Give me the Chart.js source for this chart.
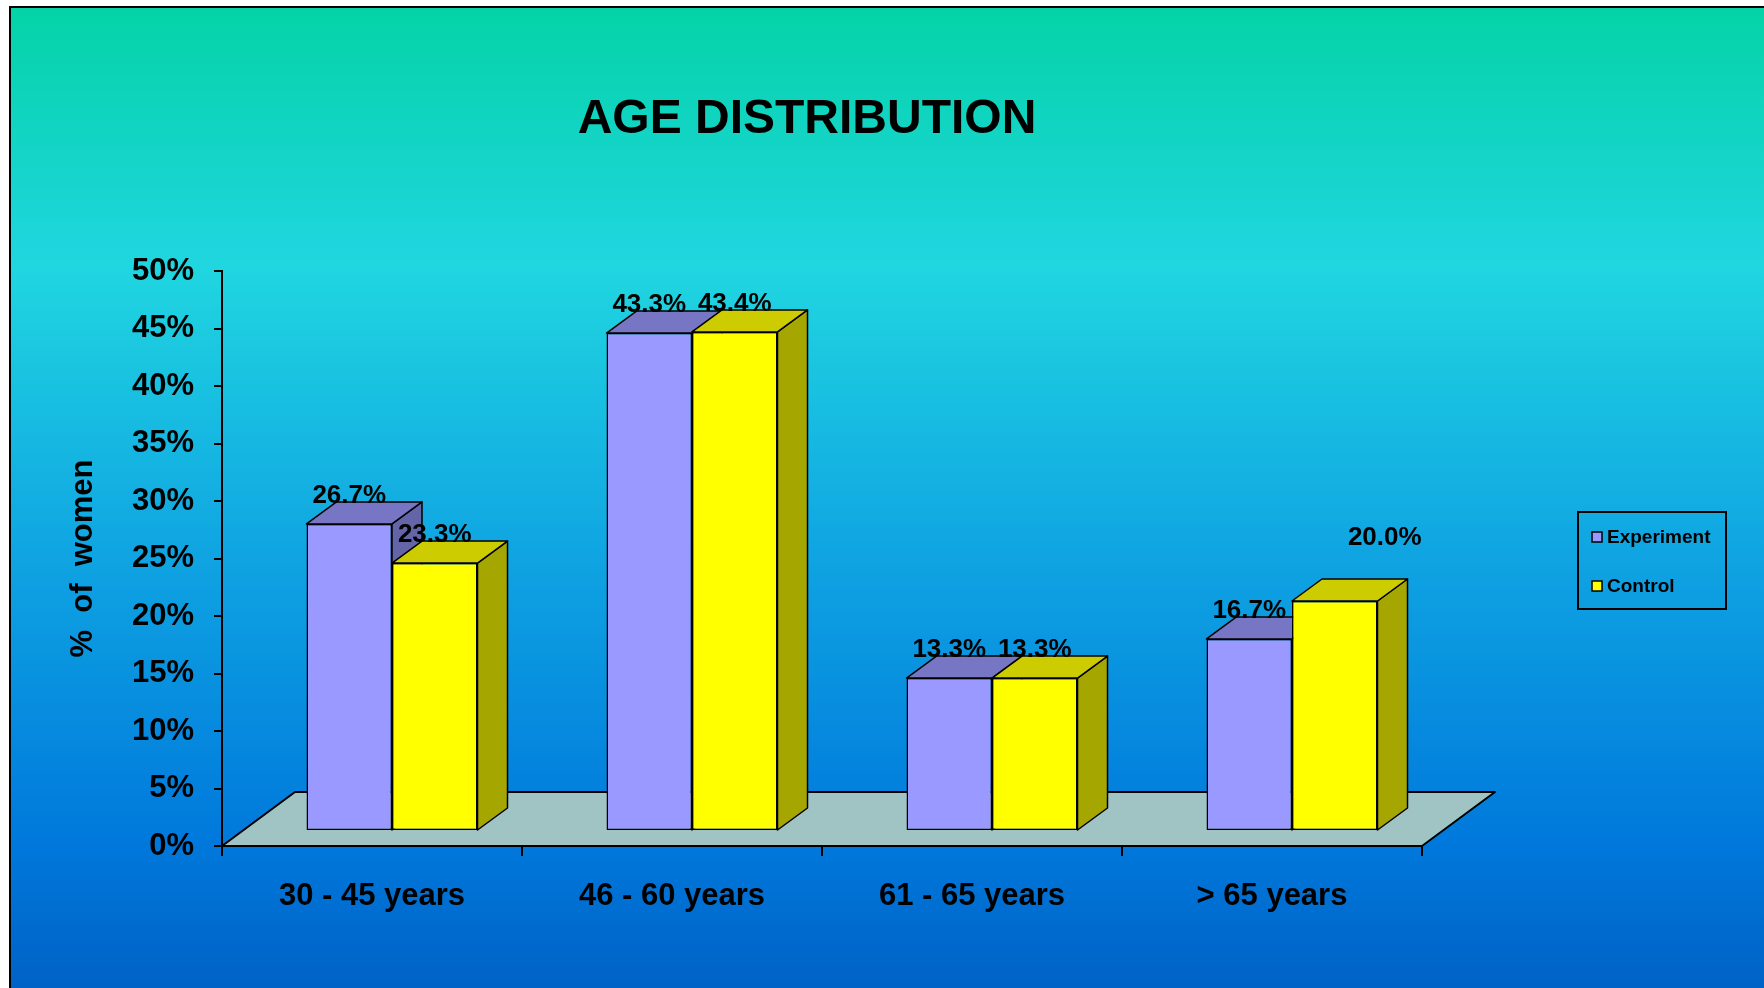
<!DOCTYPE html>
<html>
<head>
<meta charset="utf-8">
<title>Age Distribution</title>
<script src="https://cdn.jsdelivr.net/npm/chart.js@4.4.0/dist/chart.umd.min.js"></script>
<style>
  html, body { margin: 0; padding: 0; background: #fff; }
  canvas { display: block; }
</style>
</head>
<body>
<canvas id="ageChart" width="1764" height="988"></canvas>
<script>
// data
const ageGroups = ['30 - 45 years', '46 - 60 years', '61 - 65 years', '> 65 years'];
const seriesNames = ['Experiment', 'Control'];
const experimentValues = [26.7, 43.3, 13.3, 16.7];
const controlValues = [23.3, 43.4, 13.3, 20.0];
const yMax = 50;
const yStep = 5;

const FONT = '"Liberation Sans", Arial, Helvetica, sans-serif';

// 3d look: bars sit a bit back on the floor, faces are pushed back by DEPTH
const BAR_SHIFT = [20, -15];
const DEPTH = [30, -22];
const FLOOR = [73, -54];

const faceColors = [
    { front: '#9999ff', top: '#7676c4', side: '#6464a8' },
    { front: '#ffff00', top: '#cccc00', side: '#a6a600' }
];

// the >65 control label was dragged off its bar
const labelNudge = { '1-3': [50, -35] };

function poly(ctx, pts, fill) {
    ctx.beginPath();
    ctx.moveTo(pts[0][0], pts[0][1]);
    for (let i = 1; i < pts.length; i++) ctx.lineTo(pts[i][0], pts[i][1]);
    ctx.closePath();
    ctx.fillStyle = fill;
    ctx.fill();
    ctx.stroke();
}

const backdrop = {
    id: 'backdrop',
    beforeDraw(chart) {
        const ctx = chart.ctx;
        const { width, height } = chart;
        ctx.save();
        ctx.fillStyle = '#fff';
        ctx.fillRect(0, 0, width, height);
        const g = ctx.createLinearGradient(0, 0, 0, height);
        g.addColorStop(0, '#03d3a6');
        g.addColorStop(0.27, '#20d6e0');
        g.addColorStop(0.55, '#10a6e2');
        g.addColorStop(0.85, '#0079dc');
        g.addColorStop(1, '#0062c6');
        ctx.fillStyle = g;
        ctx.fillRect(9, 6, width - 9, height - 6);
        ctx.strokeStyle = '#000';
        ctx.lineWidth = 2;
        ctx.beginPath();
        ctx.moveTo(10, height);
        ctx.lineTo(10, 7);
        ctx.lineTo(width, 7);
        ctx.stroke();

        ctx.fillStyle = '#000';
        ctx.font = 'bold 48px ' + FONT;
        ctx.textAlign = 'center';
        ctx.textBaseline = 'alphabetic';
        ctx.fillText('AGE DISTRIBUTION', 807, 133);
        ctx.restore();
    }
};

// floor plus the top and side faces of every bar; Chart.js then paints the fronts
const box3d = {
    id: 'box3d',
    beforeDatasetsDraw(chart) {
        const { ctx, chartArea: a } = chart;
        ctx.save();
        ctx.strokeStyle = '#000';
        ctx.lineWidth = 2;
        ctx.lineJoin = 'round';
        poly(ctx, [
            [a.left, a.bottom], [a.right, a.bottom],
            [a.right + FLOOR[0], a.bottom + FLOOR[1]],
            [a.left + FLOOR[0], a.bottom + FLOOR[1]]
        ], '#a0c4c4');

        ctx.translate(BAR_SHIFT[0], BAR_SHIFT[1]);
        ctx.lineWidth = 1.5;
        const [dx, dy] = DEPTH;
        chart.data.datasets.forEach(function (ds, di) {
            const c = faceColors[di];
            chart.getDatasetMeta(di).data.forEach(function (bar) {
                const p = bar.getProps(['x', 'y', 'base', 'width'], true);
                const l = p.x - p.width / 2, r = p.x + p.width / 2;
                poly(ctx, [[r, p.base], [r, p.y], [r + dx, p.y + dy], [r + dx, p.base + dy]], c.side);
                poly(ctx, [[l, p.y], [r, p.y], [r + dx, p.y + dy], [l + dx, p.y + dy]], c.top);
            });
        });
        ctx.restore();
    },
    beforeDatasetDraw(chart) {
        chart.ctx.save();
        chart.ctx.translate(BAR_SHIFT[0], BAR_SHIFT[1]);
    },
    afterDatasetDraw(chart) {
        chart.ctx.restore();
    },
    afterDatasetsDraw(chart) {
        const ctx = chart.ctx;
        ctx.save();
        ctx.translate(BAR_SHIFT[0], BAR_SHIFT[1]);
        ctx.fillStyle = '#000';
        ctx.font = 'bold 26px ' + FONT;
        ctx.textAlign = 'center';
        ctx.textBaseline = 'middle';
        chart.data.datasets.forEach(function (ds, di) {
            chart.getDatasetMeta(di).data.forEach(function (bar, i) {
                const p = bar.getProps(['x', 'y'], true);
                const n = labelNudge[di + '-' + i] || [0, 0];
                ctx.fillText(ds.data[i].toFixed(1) + '%', p.x + n[0], p.y - 28 + n[1]);
            });
        });
        ctx.restore();
    }
};

const boxLegend = {
    id: 'boxLegend',
    afterDraw(chart) {
        const ctx = chart.ctx;
        ctx.save();
        ctx.strokeStyle = '#000';
        ctx.lineWidth = 2;
        ctx.strokeRect(1578, 512, 148, 97);
        ctx.font = 'bold 19px ' + FONT;
        ctx.textAlign = 'left';
        ctx.textBaseline = 'middle';
        chart.data.datasets.forEach(function (ds, i) {
            const y = 537 + i * 49;
            ctx.fillStyle = ds.backgroundColor;
            ctx.lineWidth = 1.5;
            ctx.fillRect(1592, y - 5, 10, 10);
            ctx.strokeRect(1592, y - 5, 10, 10);
            ctx.fillStyle = '#000';
            ctx.fillText(ds.label, 1607, y + 1);
        });
        ctx.restore();
    }
};

document.addEventListener("DOMContentLoaded", function () {
    const ctx = document.getElementById('ageChart').getContext('2d');
    new Chart(ctx, {
        type: 'bar',
        data: {
            labels: ageGroups,
            datasets: [{
                label: seriesNames[0],
                data: experimentValues,
                backgroundColor: faceColors[0].front
            }, {
                label: seriesNames[1],
                data: controlValues,
                backgroundColor: faceColors[1].front
            }]
        },
        options: {
            responsive: false,
            animation: false,
            events: [],
            layout: { padding: { left: 60, right: 342, top: 271, bottom: 42 } },
            datasets: {
                bar: {
                    categoryPercentage: 0.57,
                    barPercentage: 1,
                    borderColor: '#000',
                    borderWidth: 1.5,
                    borderSkipped: false,
                    clip: false
                }
            },
            plugins: {
                legend: { display: false },
                tooltip: { enabled: false },
                title: { display: false }
            },
            scales: {
                x: {
                    afterFit: function (s) { s.height = 100; },
                    border: { display: true, color: '#000', width: 2 },
                    grid: { drawOnChartArea: false, color: '#000', lineWidth: 2, tickLength: 10 },
                    ticks: { color: '#000', padding: 22, font: { family: FONT, size: 31, weight: 'bold' } }
                },
                y: {
                    min: 0,
                    max: yMax,
                    afterFit: function (s) { s.width = 162; },
                    border: { display: true, color: '#000', width: 2 },
                    grid: { drawOnChartArea: false, color: '#000', lineWidth: 2, tickLength: 8 },
                    ticks: {
                        stepSize: yStep,
                        color: '#000',
                        padding: 20,
                        font: { family: FONT, size: 31, weight: 'bold' },
                        callback: function (v) { return v + '%'; }
                    },
                    title: {
                        display: true,
                        text: '%  of  women',
                        color: '#000',
                        padding: { top: 5, bottom: 0 },
                        font: { family: FONT, size: 31, weight: 'bold' }
                    }
                }
            }
        },
        plugins: [backdrop, box3d, boxLegend]
    });
});
</script>
</body>
</html>
